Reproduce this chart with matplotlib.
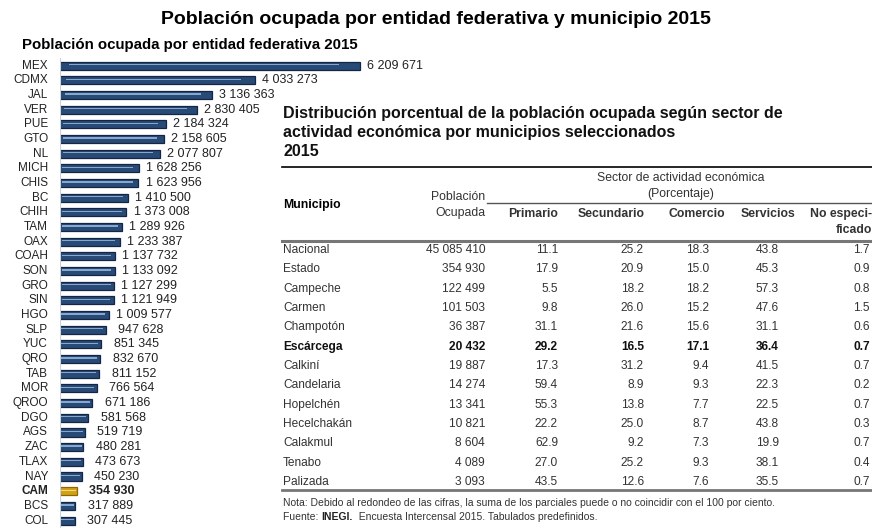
import matplotlib
import matplotlib.pyplot as plt
import numpy as np

matplotlib.use("Agg")

plt.rcParams["font.family"] = ["Liberation Sans", "DejaVu Sans"]

# Población ocupada por entidad federativa 2015
estados = ["MEX", "CDMX", "JAL", "VER", "PUE", "GTO", "NL", "MICH", "CHIS", "BC",
           "CHIH", "TAM", "OAX", "COAH", "SON", "GRO", "SIN", "HGO", "SLP", "YUC",
           "QRO", "TAB", "MOR", "QROO", "DGO", "AGS", "ZAC", "TLAX", "NAY", "CAM",
           "BCS", "COL"]
poblacion_estado = [6209671, 4033273, 3136363, 2830405, 2184324, 2158605, 2077807,
                    1628256, 1623956, 1410500, 1373008, 1289926, 1233387, 1137732,
                    1133092, 1127299, 1121949, 1009577, 947628, 851345, 832670,
                    811152, 766564, 671186, 581568, 519719, 480281, 473673, 450230,
                    354930, 317889, 307445]
destacado = "CAM"

# Distribución porcentual por municipio
municipios = ["Nacional", "Estado", "Campeche", "Carmen", "Champotón", "Escárcega",
              "Calkiní", "Candelaria", "Hopelchén", "Hecelchakán", "Calakmul",
              "Tenabo", "Palizada"]
pob_ocupada = [45085410, 354930, 122499, 101503, 36387, 20432, 19887, 14274,
               13341, 10821, 8604, 4089, 3093]
primario = [11.1, 17.9, 5.5, 9.8, 31.1, 29.2, 17.3, 59.4, 55.3, 22.2, 62.9, 27.0, 43.5]
secundario = [25.2, 20.9, 18.2, 26.0, 21.6, 16.5, 31.2, 8.9, 13.8, 25.0, 9.2, 25.2, 12.6]
comercio = [18.3, 15.0, 18.2, 15.2, 15.6, 17.1, 9.4, 9.3, 7.7, 8.7, 7.3, 9.3, 7.6]
servicios = [43.8, 45.3, 57.3, 47.6, 31.1, 36.4, 41.5, 22.3, 22.5, 43.8, 19.9, 38.1, 35.5]
no_especificado = [1.7, 0.9, 0.8, 1.5, 0.6, 0.7, 0.7, 0.2, 0.7, 0.3, 0.7, 0.4, 0.7]
municipio_destacado = "Escárcega"


def miles(v):
    return f"{v:,}".replace(",", " ")


W, H = 872, 528
fig = plt.figure(figsize=(W / 100, H / 100), dpi=100)

# --- Bar chart (left) ---
top_px, bot_px = 58.2, 527.9
ax = fig.add_axes([60 / W, 1 - bot_px / H, 360 / W, (bot_px - top_px) / H])
y = np.arange(len(estados))
vals = np.array(poblacion_estado)
is_cam = np.array([e == destacado for e in estados])
main_c = np.where(is_cam, "#d4a017", "#284a76")
edge_c = np.where(is_cam, "#8a6a00", "#132645")
hi_c = np.where(is_cam, "#f5dc7a", "#86a8d0")

ax.barh(y, vals, height=0.55, color=main_c, edgecolor=edge_c, linewidth=0.9)
ax.barh(y - 0.07, vals * 0.9, left=vals * 0.03, height=0.09, color=hi_c, linewidth=0)
ax.set_xlim(0, vals.max() * 360 / 300)
ax.set_ylim(len(estados) - 0.5, -0.5)
ax.axis("off")
ax.axvline(0, color="#c9d3e0", lw=0.8)

for i, (e, v) in enumerate(zip(estados, vals)):
    w = "bold" if e == destacado else "normal"
    ax.annotate(e, xy=(0, i), xytext=(-8.6, 0), textcoords="offset points",
                ha="right", va="center", fontsize=8.5, fontweight=w, color="#222222")
    ax.annotate(miles(int(v)), xy=(v, i), xytext=(25.2, 0), textcoords="offset points",
                ha="center", va="center", fontsize=9, fontweight=w, color="#222222")

# --- Overlay for titles and table (pixel coordinates) ---
t = fig.add_axes([0, 0, 1, 1], zorder=-1)
t.set_xlim(0, W)
t.set_ylim(H, 0)
t.axis("off")

t.text(436, 20, "Población ocupada por entidad federativa y municipio 2015",
       ha="center", va="center", fontsize=14, fontweight="bold")
t.text(22, 45, "Población ocupada por entidad federativa 2015",
       ha="left", va="center", fontsize=10.8, fontweight="bold")

titulo = ["Distribución porcentual de la población ocupada según sector de",
          "actividad económica por municipios seleccionados",
          "2015"]
for k, linea in enumerate(titulo):
    t.text(283, 118 + 19 * k, linea, ha="left", va="baseline",
           fontsize=11.5, fontweight="bold", color="#111111")

t.plot([282, 872], [167, 167], color="black", lw=1.2)
t.plot([487, 872], [203, 203], color="#555555", lw=1.0)
t.plot([282, 872], [241, 241], color="#777777", lw=2.2)
t.plot([282, 872], [490, 490], color="#777777", lw=2.0)

hfs = 8.8
t.text(283, 205, "Municipio", ha="left", va="center", fontsize=hfs, fontweight="bold")
t.text(485, 197, "Población", ha="right", va="center", fontsize=hfs, color="#333333")
t.text(485, 213, "Ocupada", ha="right", va="center", fontsize=hfs, color="#333333")
t.text(681, 178, "Sector de actividad económica", ha="center", va="center",
       fontsize=hfs, color="#333333")
t.text(681, 194, "(Porcentaje)", ha="center", va="center", fontsize=hfs, color="#333333")

col_heads = ["Primario", "Secundario", "Comercio", "Servicios", "No especi-"]
head_x = [558, 645, 725, 795, 872]
for h, hx in zip(col_heads, head_x):
    t.text(hx, 214, h, ha="right", va="center", fontsize=hfs, fontweight="bold",
           color="#333333")
t.text(872, 230, "ficado", ha="right", va="center", fontsize=hfs, fontweight="bold",
       color="#333333")

val_x = [485, 558, 644, 709, 779, 870]
columnas = [primario, secundario, comercio, servicios, no_especificado]
for r, m in enumerate(municipios):
    ry = 250 + r * 19.33
    w = "bold" if m == municipio_destacado else "normal"
    c = "#111111" if w == "bold" else "#333333"
    t.text(283, ry, m, ha="left", va="center", fontsize=8.6, fontweight=w, color=c)
    t.text(val_x[0], ry, miles(pob_ocupada[r]), ha="right", va="center",
           fontsize=8.6, fontweight=w, color=c)
    for cx, col in zip(val_x[1:], columnas):
        t.text(cx, ry, f"{col[r]:.1f}", ha="right", va="center",
               fontsize=8.6, fontweight=w, color=c)

nfs = 7.45
t.text(283, 503, "Nota: Debido al redondeo de las cifras, la suma de los parciales "
       "puede o no coincidir con el 100 por ciento.",
       ha="left", va="center", fontsize=nfs, color="#333333")
f1 = t.text(283, 517, "Fuente: ", ha="left", va="center", fontsize=nfs, color="#333333")
f2 = t.annotate("INEGI.", xy=(1, 0), xycoords=f1, va="bottom", ha="left",
                fontsize=nfs, fontweight="bold", color="#222222")
t.annotate("  Encuesta Intercensal 2015. Tabulados predefinidos.", xy=(1, 0),
           xycoords=f2, va="bottom", ha="left", fontsize=nfs, color="#333333")

fig.savefig("out.png", dpi=100)
